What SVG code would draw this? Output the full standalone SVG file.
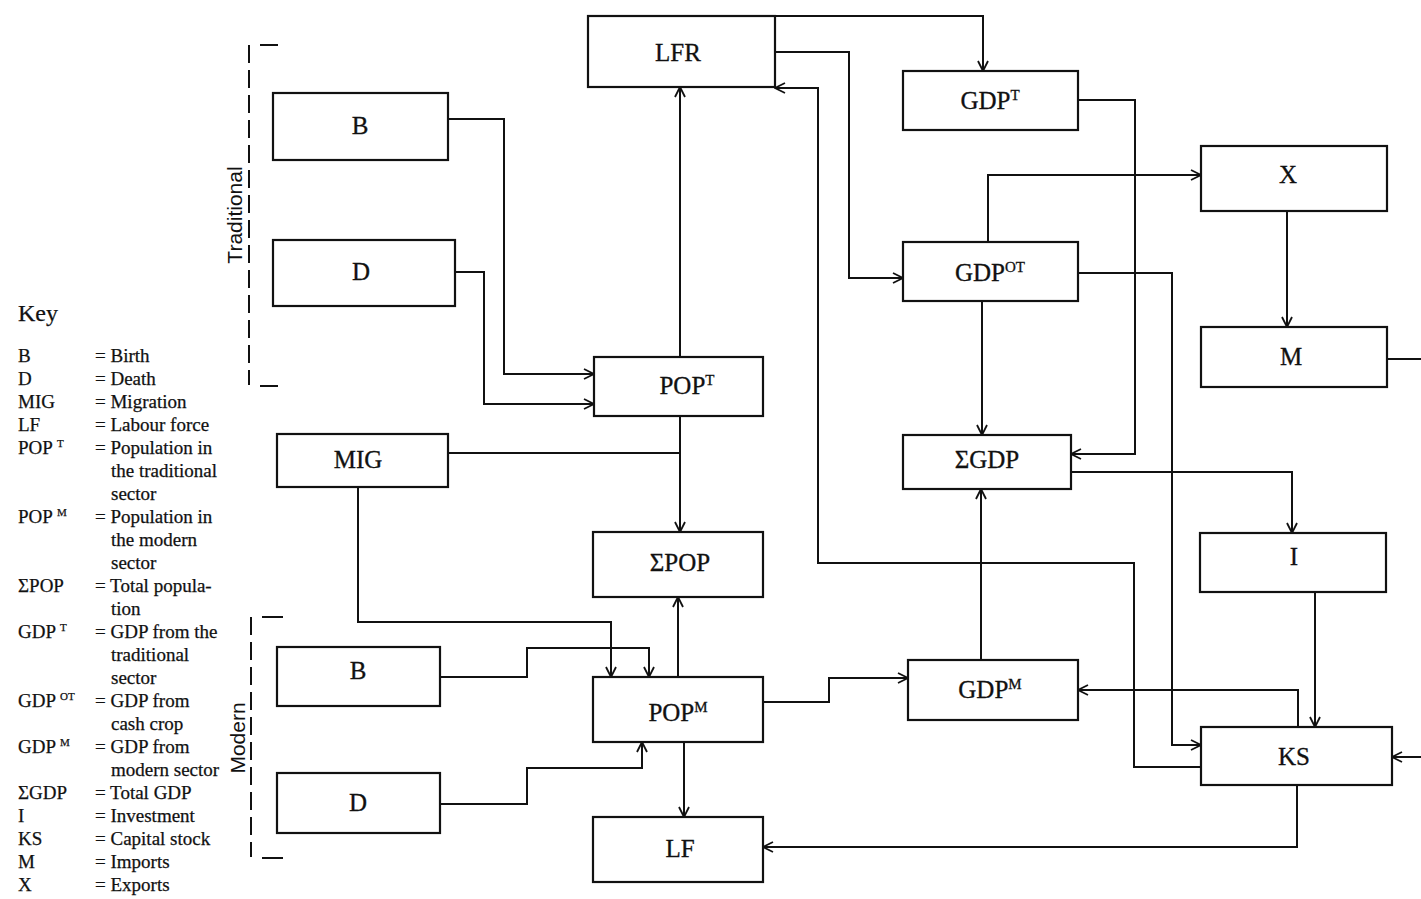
<svg xmlns="http://www.w3.org/2000/svg" width="1421" height="899" viewBox="0 0 1421 899">
<defs>
<marker id="arr" markerUnits="userSpaceOnUse" markerWidth="12" markerHeight="12" viewBox="0 0 12 12" refX="11" refY="6" orient="auto">
<path d="M1,1 L11,6 L1,11" fill="none" stroke="#111" stroke-width="1.8"/>
</marker>
<style>
.box{fill:#fff;stroke:#111;stroke-width:2.2}
.lbl{font-family:"Liberation Serif","Times New Roman",serif;font-size:25px;fill:#111;stroke:#111;stroke-width:0.3;text-anchor:middle}
.sup{font-size:15px}
.key{font-family:"Liberation Serif","Times New Roman",serif;font-size:19px;fill:#111;stroke:#111;stroke-width:0.25}
.ksup{font-size:11px}
.c{fill:none;stroke:#111;stroke-width:2}
.a{marker-end:url(#arr)}
.br{fill:none;stroke:#111;stroke-width:2;stroke-dasharray:18 7}
.tk{fill:none;stroke:#111;stroke-width:2}
.sect{font-family:"Liberation Sans",Arial,sans-serif;font-size:21px;fill:#111;text-anchor:middle}
</style>
</defs>
<rect width="1421" height="899" fill="#fff"/>

<g id="connectors">
<path class="c a" d="M775,16 H983 V71"/>
<path class="c a" d="M775,52 H849 V278 H903"/>
<path class="c a" d="M1201,767 H1134 V563 H818 V88 H775"/>
<path class="c a" d="M680,357 V87"/>
<path class="c a" d="M448,119 H504 V374 H594"/>
<path class="c a" d="M455,272 H484 V404 H594"/>
<path class="c a" d="M680,416 V532"/>
<path class="c" d="M448,453 H680"/>
<path class="c a" d="M358,487 V622 H611 V677"/>
<path class="c a" d="M440,677 H527 V648 H649 V677"/>
<path class="c a" d="M440,804 H527 V768 H642 V742"/>
<path class="c a" d="M678,677 V597"/>
<path class="c a" d="M684,742 V817"/>
<path class="c a" d="M763,702 H829 V678 H908"/>
<path class="c a" d="M981,660 V489"/>
<path class="c a" d="M1078,100 H1135 V454 H1071"/>
<path class="c a" d="M982,302 V435"/>
<path class="c a" d="M988,242 V175 H1201"/>
<path class="c a" d="M1078,273 H1172 V745 H1201"/>
<path class="c a" d="M1287,211 V327"/>
<path class="c" d="M1387,359 H1421"/>
<path class="c a" d="M1071,472 H1292 V533"/>
<path class="c a" d="M1315,592 V727"/>
<path class="c a" d="M1298,727 V690 H1078"/>
<path class="c a" d="M1421,757 H1392"/>
<path class="c a" d="M1297,785 V847 H763"/>
</g>

<g id="traditional-bracket">
<path class="br" d="M249,45 V385"/>
<path class="tk" d="M260,45 H278 M260,386 H278"/>
<text class="sect" transform="translate(242,215) rotate(-90)">Traditional</text>
</g>
<g id="modern-bracket">
<path class="br" d="M251,617 V857"/>
<path class="tk" d="M262,617 H283 M262,858 H283"/>
<text class="sect" transform="translate(245,738) rotate(-90)">Modern</text>
</g>

<g id="LFR"><rect class="box" x="588" y="16" width="187" height="71"/><text class="lbl" x="678" y="61">LFR</text></g>
<g id="GDPT"><rect class="box" x="903" y="71" width="175" height="59"/><text class="lbl" x="990" y="109">GDP<tspan class="sup" dy="-9">T</tspan></text></g>
<g id="B-trad"><rect class="box" x="273" y="93" width="175" height="67"/><text class="lbl" x="360" y="134">B</text></g>
<g id="D-trad"><rect class="box" x="273" y="240" width="182" height="66"/><text class="lbl" x="361" y="280">D</text></g>
<g id="POPT"><rect class="box" x="594" y="357" width="169" height="59"/><text class="lbl" x="687" y="394">POP<tspan class="sup" dy="-9">T</tspan></text></g>
<g id="SPOP"><rect class="box" x="593" y="532" width="170" height="65"/><text class="lbl" x="680" y="571">ΣPOP</text></g>
<g id="MIG"><rect class="box" x="277" y="434" width="171" height="53"/><text class="lbl" x="358" y="468">MIG</text></g>
<g id="B-mod"><rect class="box" x="277" y="647" width="163" height="59"/><text class="lbl" x="358" y="679">B</text></g>
<g id="POPM"><rect class="box" x="593" y="677" width="170" height="65"/><text class="lbl" x="678" y="721">POP<tspan class="sup" dy="-9">M</tspan></text></g>
<g id="D-mod"><rect class="box" x="277" y="773" width="163" height="60"/><text class="lbl" x="358" y="811">D</text></g>
<g id="LF"><rect class="box" x="593" y="817" width="170" height="65"/><text class="lbl" x="680" y="857">LF</text></g>
<g id="GDPOT"><rect class="box" x="903" y="242" width="175" height="59"/><text class="lbl" x="990" y="281">GDP<tspan class="sup" dy="-9">OT</tspan></text></g>
<g id="X"><rect class="box" x="1201" y="146" width="186" height="65"/><text class="lbl" x="1288" y="183">X</text></g>
<g id="M"><rect class="box" x="1201" y="327" width="186" height="60"/><text class="lbl" x="1291" y="365">M</text></g>
<g id="SGDP"><rect class="box" x="903" y="435" width="168" height="54"/><text class="lbl" x="987" y="468">ΣGDP</text></g>
<g id="I"><rect class="box" x="1200" y="533" width="186" height="59"/><text class="lbl" x="1294" y="565">I</text></g>
<g id="GDPM"><rect class="box" x="908" y="660" width="170" height="60"/><text class="lbl" x="990" y="698">GDP<tspan class="sup" dy="-9">M</tspan></text></g>
<g id="KS"><rect class="box" x="1201" y="727" width="191" height="58"/><text class="lbl" x="1294" y="765">KS</text></g>

<g id="key">
<text class="key" x="18" y="321" style="font-size:24px">Key</text>
<text class="key" x="18" y="362">B</text><text class="key" x="95" y="362">= Birth</text>
<text class="key" x="18" y="385">D</text><text class="key" x="95" y="385">= Death</text>
<text class="key" x="18" y="408">MIG</text><text class="key" x="95" y="408">= Migration</text>
<text class="key" x="18" y="431">LF</text><text class="key" x="95" y="431">= Labour force</text>
<text class="key" x="18" y="454">POP <tspan class="ksup" dy="-7">T</tspan></text><text class="key" x="95" y="454">= Population in</text>
<text class="key" x="111" y="477">the traditional</text>
<text class="key" x="111" y="500">sector</text>
<text class="key" x="18" y="523">POP <tspan class="ksup" dy="-7">M</tspan></text><text class="key" x="95" y="523">= Population in</text>
<text class="key" x="111" y="546">the modern</text>
<text class="key" x="111" y="569">sector</text>
<text class="key" x="18" y="592">ΣPOP</text><text class="key" x="95" y="592">= Total popula-</text>
<text class="key" x="111" y="615">tion</text>
<text class="key" x="18" y="638">GDP <tspan class="ksup" dy="-7">T</tspan></text><text class="key" x="95" y="638">= GDP from the</text>
<text class="key" x="111" y="661">traditional</text>
<text class="key" x="111" y="684">sector</text>
<text class="key" x="18" y="707">GDP <tspan class="ksup" dy="-7">OT</tspan></text><text class="key" x="95" y="707">= GDP from</text>
<text class="key" x="111" y="730">cash crop</text>
<text class="key" x="18" y="753">GDP <tspan class="ksup" dy="-7">M</tspan></text><text class="key" x="95" y="753">= GDP from</text>
<text class="key" x="111" y="776">modern sector</text>
<text class="key" x="18" y="799">ΣGDP</text><text class="key" x="95" y="799">= Total GDP</text>
<text class="key" x="18" y="822">I</text><text class="key" x="95" y="822">= Investment</text>
<text class="key" x="18" y="845">KS</text><text class="key" x="95" y="845">= Capital stock</text>
<text class="key" x="18" y="868">M</text><text class="key" x="95" y="868">= Imports</text>
<text class="key" x="18" y="891">X</text><text class="key" x="95" y="891">= Exports</text>
</g>
</svg>
